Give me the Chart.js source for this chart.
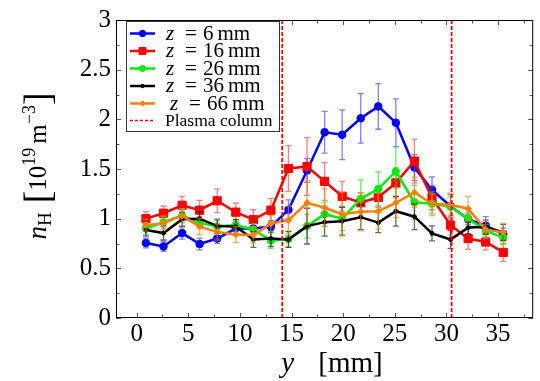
<!DOCTYPE html>
<html>
<head>
<meta charset="utf-8">
<script src="https://cdn.jsdelivr.net/npm/chart.js@4.4.1/dist/chart.umd.min.js"></script>
<style>
  html, body { margin: 0; padding: 0; background: #fff; }
  canvas { display: block; }
</style>
</head>
<body>
<canvas id="chart" width="540" height="381"></canvas>
<script>
// Posições y [mm] das medidas
const posY = [0.9, 2.6, 4.4, 6.1, 7.8, 9.6, 11.3, 13.0, 14.7, 16.5, 18.2, 19.9, 21.7, 23.4, 25.1, 26.9, 28.6, 30.4, 32.1, 33.8, 35.5];

// n_H [1e19 m^-3] por posição axial z
const z6 = [0.755, 0.72, 0.855, 0.745, 0.80, 0.90, 0.90, 0.92, 1.09, 1.485, 1.87, 1.845, 2.01, 2.13, 1.965, 1.515, 1.29, 1.125, 0.995, 0.93, 0.845];
const z6Err = [0.05, 0.05, 0.06, 0.06, 0.05, 0.06, 0.06, 0.06, 0.10, 0.12, 0.21, 0.25, 0.25, 0.23, 0.24, 0.13, 0.13, 0.12, 0.05, 0.09, 0.06];

const z16 = [1.0, 1.055, 1.135, 1.085, 1.18, 1.065, 0.99, 1.085, 1.505, 1.525, 1.375, 1.225, 1.16, 1.215, 1.36, 1.58, 1.21, 0.935, 0.80, 0.765, 0.66];
const z16Err = [0.07, 0.07, 0.09, 0.10, 0.12, 0.09, 0.10, 0.12, 0.23, 0.29, 0.19, 0.15, 0.10, 0.10, 0.15, 0.22, 0.12, 0.10, 0.11, 0.08, 0.09];

const z26 = [0.90, 0.965, 1.03, 0.96, 0.92, 0.935, 0.89, 0.78, 0.795, 0.925, 1.045, 1.0, 1.2, 1.3, 1.475, 1.165, 1.15, 1.12, 1.0, 0.88, 0.81];
const z26Err = [0.06, 0.06, 0.07, 0.06, 0.06, 0.06, 0.06, 0.08, 0.08, 0.12, 0.12, 0.12, 0.19, 0.17, 0.25, 0.17, 0.12, 0.10, 0.06, 0.06, 0.07];

const z36 = [0.885, 0.855, 0.995, 1.0, 0.925, 0.92, 0.79, 0.80, 0.79, 0.925, 0.965, 0.975, 1.015, 0.96, 1.075, 1.02, 0.852, 0.79, 0.91, 0.915, 0.862];
const z36Err = [0.06, 0.07, 0.07, 0.07, 0.07, 0.07, 0.08, 0.08, 0.08, 0.18, 0.14, 0.14, 0.125, 0.10, 0.15, 0.13, 0.075, 0.09, 0.06, 0.07, 0.08];

const z66 = [0.935, 0.955, 1.03, 0.92, 0.865, 0.84, 0.835, 0.95, 0.985, 1.16, 1.11, 1.045, 1.07, 1.075, 1.16, 1.265, 1.15, 1.137, 1.10, 0.89, 0.862];
const z66Err = [0.06, 0.07, 0.07, 0.08, 0.08, 0.08, 0.08, 0.08, 0.14, 0.22, 0.19, 0.22, 0.19, 0.18, 0.15, 0.15, 0.10, 0.12, 0.125, 0.09, 0.09];

// Limites da coluna de plasma [mm]
const plasmaEdges = [14.1, 30.5];

const zLabels = ['6', '16', '26', '36', '66'];
const xTickValues = [0, 5, 10, 15, 20, 25, 30, 35];
const yTickValues = [0, 0.5, 1, 1.5, 2, 2.5, 3];

const SERIF = '"Liberation Serif", "DejaVu Serif", serif';

function series(label, ys, errs, color, errColor, style, radius, order) {
  return {
    label,
    data: posY.map((x, i) => ({ x, y: ys[i] })),
    errors: errs,
    errorColor: errColor,
    borderColor: color,
    backgroundColor: color,
    pointBackgroundColor: color,
    pointBorderColor: color,
    pointBorderWidth: 1,
    pointStyle: style,
    pointRadius: radius,
    borderWidth: 2.5,
    tension: 0,
    order
  };
}

function plasmaLine(xv) {
  return {
    label: 'Plasma column',
    data: [{ x: xv, y: 0 }, { x: xv, y: 3 }],
    borderColor: '#ff0000',
    borderDash: [4, 2],
    borderWidth: 1.8,
    pointRadius: 0,
    order: -1
  };
}

const datasets = [
  series('6', z6, z6Err, '#0000ff', 'rgba(40,40,255,0.6)', 'circle', 3.8, 4),
  series('16', z16, z16Err, '#ff0000', 'rgba(255,40,40,0.6)', 'rect', 5.8, 3),
  series('26', z26, z26Err, '#00ee00', 'rgba(20,230,20,0.65)', 'circle', 3.6, 2),
  series('36', z36, z36Err, '#000000', 'rgba(0,0,0,0.6)', 'circle', 2, 1),
  series('66', z66, z66Err, '#ff8000', 'rgba(255,128,0,0.65)', 'rectRot', 3.2, 0),
  plasmaLine(plasmaEdges[0]),
  plasmaLine(plasmaEdges[1])
];

// Barras de erro desenhadas antes de cada série
const errorBars = {
  id: 'errorBars',
  beforeDatasetDraw(chart, args) {
    const ds = chart.data.datasets[args.index];
    if (!ds.errors) return;
    const { ctx, scales: { x, y } } = chart;
    ctx.save();
    ctx.strokeStyle = ds.errorColor;
    ctx.lineWidth = 1.3;
    ds.data.forEach((p, i) => {
      const px = x.getPixelForValue(p.x);
      const top = y.getPixelForValue(p.y + ds.errors[i]);
      const bot = y.getPixelForValue(p.y - ds.errors[i]);
      ctx.beginPath();
      ctx.moveTo(px, top); ctx.lineTo(px, bot);
      ctx.moveTo(px - 3, top); ctx.lineTo(px + 3, top);
      ctx.moveTo(px - 3, bot); ctx.lineTo(px + 3, bot);
      ctx.stroke();
    });
    ctx.restore();
  }
};

// Moldura com marcas para dentro (estilo pgfplots)
const frame = {
  id: 'frame',
  afterDatasetsDraw(chart) {
    const { ctx, chartArea: a, scales: { x, y } } = chart;
    ctx.save();
    ctx.strokeStyle = '#555';
    ctx.lineWidth = 1;
    ctx.beginPath();
    for (let v = 0; v <= x.max; v += 2.5) {
      const px = Math.round(x.getPixelForValue(v)) + 0.5;
      const len = v % 5 === 0 ? 5 : 3.5;
      ctx.moveTo(px, a.bottom); ctx.lineTo(px, a.bottom - len);
      ctx.moveTo(px, a.top); ctx.lineTo(px, a.top + len);
    }
    for (let v = 0; v <= 3.001; v += 0.25) {
      const py = Math.round(y.getPixelForValue(v)) + 0.5;
      const len = Math.abs(v * 2 - Math.round(v * 2)) < 1e-6 ? 5 : 3.5;
      ctx.moveTo(a.left, py); ctx.lineTo(a.left + len, py);
      ctx.moveTo(a.right, py); ctx.lineTo(a.right - len, py);
    }
    ctx.stroke();
    ctx.strokeStyle = '#000';
    ctx.strokeRect(a.left + 0.5, a.top + 0.5, a.right - a.left - 1, a.bottom - a.top - 1);
    ctx.restore();
  }
};

function drawRun(ctx, parts, cx, baseY) {
  let total = 0;
  parts.forEach(p => {
    ctx.font = p.f;
    p.w = ctx.measureText(p.t).width;
    total += p.w + (p.g || 0);
  });
  let xx = cx - total / 2;
  parts.forEach(p => {
    xx += p.g || 0;
    ctx.font = p.f;
    ctx.fillText(p.t, xx, baseY + (p.dy || 0));
    xx += p.w;
  });
}

// Títulos dos eixos e legenda
const annotations = {
  id: 'annotations',
  afterDraw(chart) {
    const ctx = chart.ctx;
    ctx.save();
    ctx.fillStyle = '#000';
    ctx.textBaseline = 'alphabetic';
    ctx.textAlign = 'left';

    // eixo x
    drawRun(ctx, [
      { t: 'y', f: 'italic 29px ' + SERIF },
      { t: '[mm]', f: '29px ' + SERIF, g: 24 }
    ], 332, 372);

    // eixo y
    ctx.save();
    ctx.translate(46, 166);
    ctx.rotate(-Math.PI / 2);
    drawRun(ctx, [
      { t: 'n', f: 'italic 27px ' + SERIF },
      { t: 'H', f: '19px ' + SERIF, dy: 5 },
      { t: '[', f: '38px ' + SERIF, dy: 4, g: 9 },
      { t: '10', f: '25px ' + SERIF },
      { t: '19', f: '18px ' + SERIF, dy: -11 },
      { t: 'm', f: '25px ' + SERIF, g: 4 },
      { t: '\u22123', f: '18px ' + SERIF, dy: -11 },
      { t: ']', f: '38px ' + SERIF, dy: 4 }
    ], 0, 0);
    ctx.restore();

    // legenda
    const bx = 126, by = 21, bw = 154, bh = 111;
    ctx.fillStyle = '#fff';
    ctx.fillRect(bx, by, bw, bh);
    ctx.strokeStyle = '#333';
    ctx.lineWidth = 1;
    ctx.strokeRect(bx + 0.5, by + 0.5, bw - 1, bh - 1);

    const rowY = [33.5, 51, 68.5, 86, 103.5];
    chart.data.datasets.slice(0, 5).forEach((ds, i) => {
      const ry = rowY[i];
      ctx.strokeStyle = ds.borderColor;
      ctx.lineWidth = ds.borderWidth;
      ctx.beginPath();
      ctx.moveTo(130, ry); ctx.lineTo(155, ry);
      ctx.stroke();
      ctx.fillStyle = ds.pointBackgroundColor;
      ctx.strokeStyle = ds.pointBorderColor;
      ctx.lineWidth = 1;
      Chart.helpers.drawPoint(ctx, { pointStyle: ds.pointStyle, radius: ds.pointRadius * 0.85, borderWidth: 1, rotation: 0 }, 142.5, ry);

      const shift = i === 4 ? 4 : 0;
      ctx.fillStyle = '#000';
      ctx.font = 'italic 21px ' + SERIF;
      ctx.fillText('z', 166 + shift, ry + 6);
      ctx.font = '21px ' + SERIF;
      ctx.fillText('=', 185 + shift, ry + 6);
      ctx.fillText(zLabels[i], 203 + shift, ry + 6);
      const nw = ctx.measureText(zLabels[i]).width;
      ctx.fillText('mm', 203 + shift + nw + 4, ry + 6);
    });

    ctx.strokeStyle = '#ff0000';
    ctx.lineWidth = 1.3;
    ctx.setLineDash([3, 2]);
    ctx.beginPath();
    ctx.moveTo(130, 120.5); ctx.lineTo(155, 120.5);
    ctx.stroke();
    ctx.setLineDash([]);
    ctx.fillStyle = '#000';
    ctx.font = '17.5px ' + SERIF;
    ctx.fillText('Plasma column', 165, 125.5);
    ctx.restore();
  }
};

new Chart(document.getElementById('chart'), {
  type: 'line',
  data: { datasets },
  options: {
    responsive: false,
    animation: false,
    devicePixelRatio: 1,
    layout: { padding: { top: 17, right: 1, left: 0, bottom: 0 } },
    scales: {
      x: {
        type: 'linear',
        min: -2,
        max: 38.4,
        afterFit: s => { s.height = 63; },
        afterBuildTicks: s => { s.ticks = xTickValues.map(v => ({ value: v })); },
        grid: { display: false, drawTicks: false },
        border: { display: false },
        ticks: { color: '#000', padding: 1, maxRotation: 0, font: { family: SERIF, size: 25 }, callback: v => String(v) }
      },
      y: {
        type: 'linear',
        min: 0,
        max: 3,
        afterFit: s => { s.width = 116; },
        afterBuildTicks: s => { s.ticks = yTickValues.map(v => ({ value: v })); },
        grid: { display: false, drawTicks: false },
        border: { display: false },
        ticks: { color: '#000', padding: 5, font: { family: SERIF, size: 25 }, callback: v => String(v) }
      }
    },
    plugins: {
      legend: { display: false },
      tooltip: { enabled: false }
    }
  },
  plugins: [errorBars, frame, annotations]
});
</script>
</body>
</html>
